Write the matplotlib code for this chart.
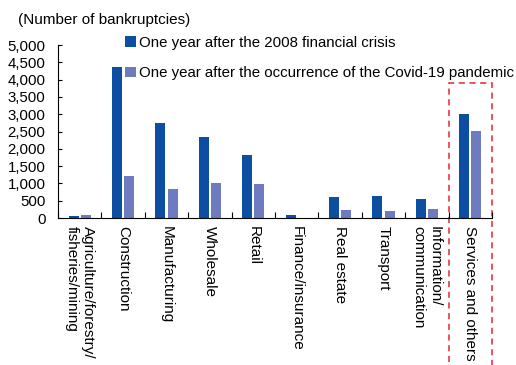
import matplotlib.pyplot as plt
import numpy as np
from matplotlib.patches import Rectangle

plt.rcParams['font.family'] = ['Liberation Sans', 'DejaVu Sans']

industries = ['Agriculture/forestry/\nfisheries/mining', 'Construction', 'Manufacturing',
              'Wholesale', 'Retail', 'Finance/insurance', 'Real estate', 'Transport',
              'Information/\ncommunication', 'Services and others']
crisis_2008 = [60, 4360, 2740, 2330, 1820, 80, 600, 640, 560, 3020]
covid_19 = [85, 1200, 840, 1000, 990, 10, 240, 200, 270, 2520]
series_names = ['One year after the 2008 financial crisis',
                'One year after the occurrence of the Covid-19 pandemic']
yticks = [0, 500, 1000, 1500, 2000, 2500, 3000, 3500, 4000, 4500, 5000]

fig = plt.figure(figsize=(5.16, 3.65), dpi=100)
ax = fig.add_axes([0.1124, 0.4027, 0.841, 0.474])

x = np.arange(len(industries))
w = 0.23
ax.bar(x - 0.14, crisis_2008, w, color='#0B4EA2', label=series_names[0])
ax.bar(x + 0.14, covid_19, w, color='#6E7BBF', label=series_names[1])

ax.set_xlim(-0.5, len(industries) - 0.5)
ax.set_ylim(0, 5000)
ax.set_yticks(yticks)
ax.set_yticklabels([f'{v:,}' for v in yticks], fontsize=10.8)
ax.tick_params(axis='y', direction='in', length=3, pad=9)

# category ticks sit on the boundaries, labels at the centres
ax.set_xticks(np.arange(len(industries) + 1) - 0.5)
ax.set_xticklabels([])
ax.tick_params(axis='x', direction='in', length=4)
for xi, name in zip(x, industries):
    ax.text(xi, -230, name, rotation=270, ha='center', va='top',
            multialignment='left', fontsize=11)

for s in ['top', 'right']:
    ax.spines[s].set_visible(False)

# highlight box around the last category
ax.add_patch(Rectangle((8.5, -5000), 1.0, 8900, fill=False, edgecolor='#E8262B',
                       linestyle=(0, (4, 3)), linewidth=1.1, clip_on=False))

fig.text(0.035, 0.945, '(Number of bankruptcies)', fontsize=11, va='center')

fig.legend(loc='upper left', bbox_to_anchor=(0.243, 0.902), frameon=False,
           fontsize=10.8, borderpad=0, borderaxespad=0, handlelength=0.7,
           handleheight=0.7, handletextpad=0.2, labelspacing=1.1)

fig.savefig('out.png', dpi=100)
